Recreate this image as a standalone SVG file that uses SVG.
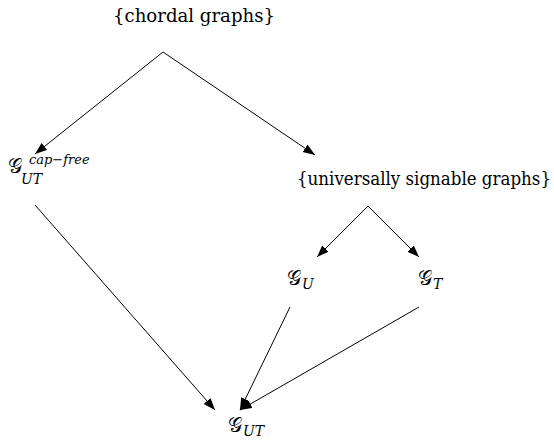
<svg xmlns="http://www.w3.org/2000/svg" width="554" height="442" viewBox="0 0 554 442">
<defs>
<marker id="ah" markerUnits="userSpaceOnUse" markerWidth="14" markerHeight="10" refX="12" refY="4.5" orient="auto">
<path d="M0,0 L12,4.5 L0,9 z" fill="#000"/>
</marker>
</defs>
<g id="edges" stroke="#000" stroke-width="1" fill="none">
<line x1="163" y1="52" x2="35" y2="154" marker-end="url(#ah)"/>
<line x1="163" y1="52" x2="315" y2="155" marker-end="url(#ah)"/>
<line x1="35" y1="205" x2="215" y2="410" marker-end="url(#ah)"/>
<line x1="368" y1="206" x2="317" y2="257" marker-end="url(#ah)"/>
<line x1="368" y1="206" x2="419" y2="257" marker-end="url(#ah)"/>
<line x1="290" y1="307" x2="240" y2="410" marker-end="url(#ah)"/>
<line x1="419" y1="307" x2="240" y2="410" marker-end="url(#ah)"/>
</g>
<g id="chordal">
<text x="113" y="22" font-size="18" font-family="DejaVu Serif" textLength="162" lengthAdjust="spacingAndGlyphs">{chordal graphs}</text>
</g>
<g id="universal">
<text x="297" y="185" font-size="18" font-family="DejaVu Serif" textLength="254" lengthAdjust="spacingAndGlyphs">{universally signable graphs}</text>
</g>
<g id="capfree">
<text x="8" y="173" font-size="20" font-family="DejaVu Serif">𝒢</text>
<text x="21" y="184" font-size="14" font-family="DejaVu Serif" font-style="italic">UT</text>
<text x="29" y="164" font-size="13" font-family="DejaVu Serif" font-style="italic">cap−free</text>
</g>
<g id="gu">
<text x="287" y="285" font-size="20" font-family="DejaVu Serif">𝒢</text>
<text x="302" y="289" font-size="14" font-family="DejaVu Serif" font-style="italic">U</text>
</g>
<g id="gt">
<text x="418" y="285" font-size="20" font-family="DejaVu Serif">𝒢</text>
<text x="433" y="289" font-size="14" font-family="DejaVu Serif" font-style="italic">T</text>
</g>
<g id="gut">
<text x="228" y="432" font-size="20" font-family="DejaVu Serif">𝒢</text>
<text x="243" y="436" font-size="14" font-family="DejaVu Serif" font-style="italic">UT</text>
</g>
</svg>
